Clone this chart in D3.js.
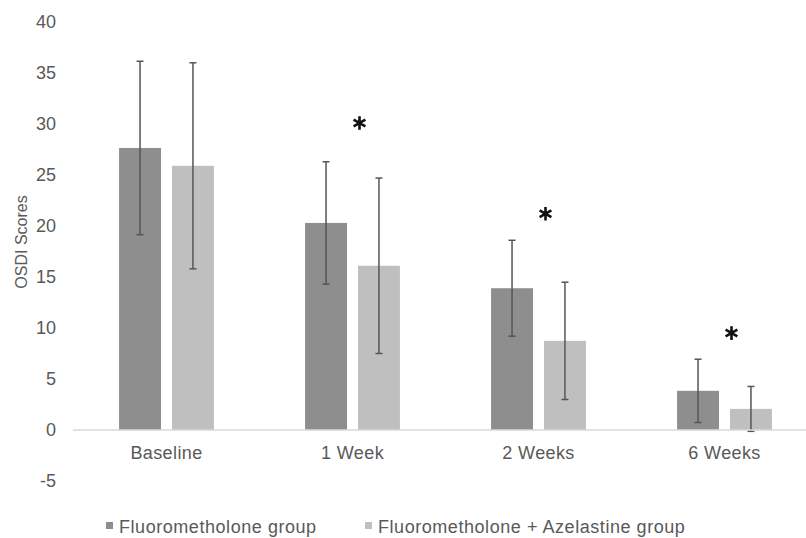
<!DOCTYPE html>
<html>
<head>
<meta charset="utf-8">
<script src="https://cdn.jsdelivr.net/npm/d3@7"></script>
<style>
  html, body { margin: 0; padding: 0; background: #fff; }
  svg { display: block; }
  text { font-family: "Liberation Sans", Arial, sans-serif; }
</style>
</head>
<body>
<svg id="chart" width="806" height="538"></svg>
<script>
const categories = ["Baseline", "1 Week", "2 Weeks", "6 Weeks"];
const seriesNames = ["Fluorometholone group", "Fluorometholone + Azelastine group"];
const fmlMeans = [27.65, 20.3, 13.9, 3.84];
const fmlSD = [8.5, 6.0, 4.7, 3.1];
const fmlAzeMeans = [25.9, 16.1, 8.74, 2.07];
const fmlAzeSD = [10.1, 8.6, 5.75, 2.2];
const significant = [null, 30.1, 21.2, 9.5];
const yTicks = [-5, 0, 5, 10, 15, 20, 25, 30, 35, 40];
const colors = ["#8e8e8e", "#bfbfbf"];

const svg = d3.select("#chart");

const y = d3.scaleLinear().domain([-5, 40]).range([481, 22]);
const x0 = d3.scaleBand().domain(categories).range([73.5, 817.5])
  .paddingInner(0.49).paddingOuter(0.245);
const x1 = d3.scaleBand().domain([0, 1]).range([0, x0.bandwidth()]).paddingInner(0.2075);

// y axis labels
const yAxis = d3.axisLeft(y).tickValues(yTicks).tickSize(0).tickPadding(0)
  .tickFormat(d => String(d));
const gy = svg.append("g").attr("transform", "translate(56,0)").call(yAxis);
gy.select(".domain").remove();
gy.selectAll("text")
  .attr("fill", "#595959")
  .style("font-size", "18px")
  .style("font-family", "'Liberation Sans', Arial, sans-serif")
  .attr("dy", "0.28em");

// y title
svg.append("text")
  .attr("transform", `translate(27,${242}) rotate(-90)`)
  .attr("text-anchor", "middle")
  .attr("fill", "#595959")
  .style("font-size", "16px")
  .text("OSDI Scores");

// data rows
const rows = categories.map((c, i) => ({
  cat: c,
  vals: [
    { s: 0, m: fmlMeans[i], sd: fmlSD[i] },
    { s: 1, m: fmlAzeMeans[i], sd: fmlAzeSD[i] }
  ],
  sig: significant[i]
}));

const groups = svg.append("g").selectAll("g").data(rows).join("g")
  .attr("transform", d => `translate(${x0(d.cat)},0)`);

groups.selectAll("rect").data(d => d.vals).join("rect")
  .attr("x", d => x1(d.s))
  .attr("width", x1.bandwidth())
  .attr("y", d => y(Math.max(0, d.m)))
  .attr("height", d => Math.abs(y(d.m) - y(0)))
  .attr("fill", d => colors[d.s]);

// zero line
svg.append("line")
  .attr("x1", 73).attr("x2", 806)
  .attr("y1", y(0)).attr("y2", y(0))
  .attr("stroke", "#d9d9d9").attr("stroke-width", 1.5);

// error bars
const eb = groups.selectAll("g.eb").data(d => d.vals).join("g").attr("class", "eb")
  .attr("transform", d => `translate(${x1(d.s) + x1.bandwidth() / 2},0)`)
  .attr("stroke", "#555").attr("stroke-width", 1.5);
eb.append("line").attr("x1", 0).attr("x2", 0)
  .attr("y1", d => y(d.m + d.sd)).attr("y2", d => y(d.m - d.sd));
eb.append("line").attr("x1", -3.5).attr("x2", 3.5)
  .attr("y1", d => y(d.m + d.sd)).attr("y2", d => y(d.m + d.sd));
eb.append("line").attr("x1", -3.5).attr("x2", 3.5)
  .attr("y1", d => y(d.m - d.sd)).attr("y2", d => y(d.m - d.sd));

// significance asterisks
const star = d3.symbol().type(d3.symbolAsterisk).size(130);
groups.filter(d => d.sig !== null).append("path")
  .attr("d", star)
  .attr("transform", d => `translate(${x0.bandwidth() / 2 + 7},${y(d.sig)})`)
  .attr("fill", "none").attr("stroke", "#111").attr("stroke-width", 2.6);

// x labels
svg.append("g").selectAll("text").data(categories).join("text")
  .attr("x", d => x0(d) + x0.bandwidth() / 2)
  .attr("y", 459)
  .attr("text-anchor", "middle")
  .attr("fill", "#595959")
  .style("font-size", "18px")
  .style("letter-spacing", "0.4px")
  .text(d => d);

// legend
const legendX = [106, 365];
const lg = svg.append("g").selectAll("g").data(seriesNames).join("g")
  .attr("transform", (d, i) => `translate(${legendX[i]},0)`);
lg.append("rect").attr("x", 0).attr("y", 522).attr("width", 7).attr("height", 7)
  .attr("fill", (d, i) => colors[i]);
lg.append("text").attr("x", 13).attr("y", 533)
  .attr("fill", "#595959")
  .style("font-size", "18px")
  .style("letter-spacing", "0.55px")
  .text(d => d);
</script>
</body>
</html>
